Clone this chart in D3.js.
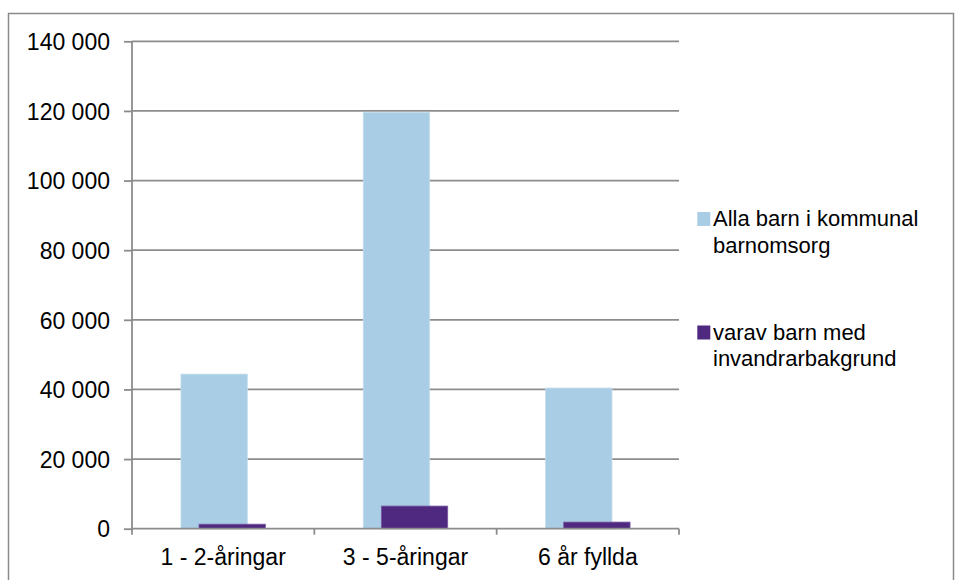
<!DOCTYPE html>
<html><head><meta charset="utf-8">
<script src="https://cdn.jsdelivr.net/npm/d3@7"></script>
<style>
html,body{margin:0;padding:0;background:#fff;}
svg{display:block;font-family:"Liberation Sans",Arial,sans-serif;}
</style></head>
<body>
<svg id="chart" width="956" height="580"></svg>
<script>
const categories = ["1 - 2-åringar", "3 - 5-åringar", "6 år fyllda"];
const seriesNames = ["Alla barn i kommunal barnomsorg", "varav barn med invandrarbakgrund"];
const legendLines = [["Alla barn i kommunal", "barnomsorg"], ["varav barn med", "invandrarbakgrund"]];
const allaBarn = [44400, 119600, 40400];
const invandrar = [1300, 6500, 1900];
const yTicks = [0, 20000, 40000, 60000, 80000, 100000, 120000, 140000];
const colors = ["#A9CDE4", "#4F2980"];
const strokes = ["#C4DDEE", "#7A5AA3"];

(function () {
const svg = d3.select("#chart");
const grid = "#8c8c8c";

// outer frame
svg.append("rect").attr("x", 8.5).attr("y", 13.5).attr("width", 945).attr("height", 620)
  .attr("fill", "none").attr("stroke", "#8a8a8a").attr("stroke-width", 1.5);

const pL = 132, pR = 679, pT = 41.3, pB = 528.7;
const x = d3.scaleBand().domain(categories).range([pL, pR]).paddingInner(0).paddingOuter(0);
const y = d3.scaleLinear().domain([0, 140000]).range([pB, pT]);

const loc = d3.formatLocale({decimal: ",", thousands: " ", grouping: [3], currency: ["", ""]});
const fmt = loc.format(",");

// gridlines
svg.append("g").selectAll("line").data(yTicks.filter(d => d > 0)).join("line")
  .attr("x1", pL).attr("x2", pR)
  .attr("y1", d => y(d)).attr("y2", d => y(d))
  .attr("stroke", grid).attr("stroke-width", 1.8);

// bars
const bw = x.bandwidth() * 0.364;
const step = bw * 0.272;
const groupW = bw + step;
const series = [allaBarn, invandrar];
series.forEach((vals, si) => {
  svg.append("g").selectAll("rect").data(vals).join("rect")
    .attr("x", (d, i) => x(categories[i]) + x.bandwidth() / 2 - groupW / 2 + si * step)
    .attr("y", d => y(d))
    .attr("width", bw)
    .attr("height", d => y(0) - y(d))
    .attr("fill", colors[si])
    .attr("stroke", strokes[si]).attr("stroke-width", 0.8);
});

// y axis
const yAxis = d3.axisLeft(y).tickValues(yTicks).tickSize(8).tickPadding(14).tickFormat(fmt);
const gy = svg.append("g").attr("transform", `translate(${pL},0)`).call(yAxis);
gy.select(".domain").attr("stroke", grid).attr("stroke-width", 1.8).attr("d", `M0,${pT}V${pB + 6}`);
gy.selectAll(".tick line").attr("stroke", grid).attr("stroke-width", 1.8);
gy.selectAll(".tick text").attr("fill", "#000").style("font-size", "23px")
  .style("font-family", '"Liberation Sans",Arial,sans-serif').attr("dy", "0.36em");

// x axis
const xAxis = d3.axisBottom(x).tickSize(0).tickPadding(20);
const gx = svg.append("g").attr("transform", `translate(0,${pB})`).call(xAxis);
gx.select(".domain").attr("stroke", grid).attr("stroke-width", 1.8).attr("d", `M${pL},0H${pR}`);
gx.selectAll(".tick text").attr("fill", "#000").style("font-size", "23px")
  .style("font-family", '"Liberation Sans",Arial,sans-serif');
// boundary ticks between categories
const bounds = categories.map(c => x(c)).concat([pR]);
svg.append("g").selectAll("line").data(bounds.slice(1)).join("line")
  .attr("x1", d => d).attr("x2", d => d).attr("y1", pB).attr("y2", pB + 6)
  .attr("stroke", grid).attr("stroke-width", 1.8);

// legend
const lg = svg.append("g");
const legendY = [212, 325.5];
seriesNames.forEach((name, i) => {
  lg.append("rect").attr("x", 697.3).attr("y", legendY[i]).attr("width", 13).attr("height", 14)
    .attr("fill", colors[i]);
  const t = lg.append("text").attr("x", 713).attr("y", legendY[i] + 14).style("font-size", "22px").attr("fill", "#000");
  legendLines[i].forEach((ln, j) => {
    t.append("tspan").attr("x", 713).attr("dy", j === 0 ? 0 : 26.5).text(ln);
  });
});
})();
</script>
</body></html>
